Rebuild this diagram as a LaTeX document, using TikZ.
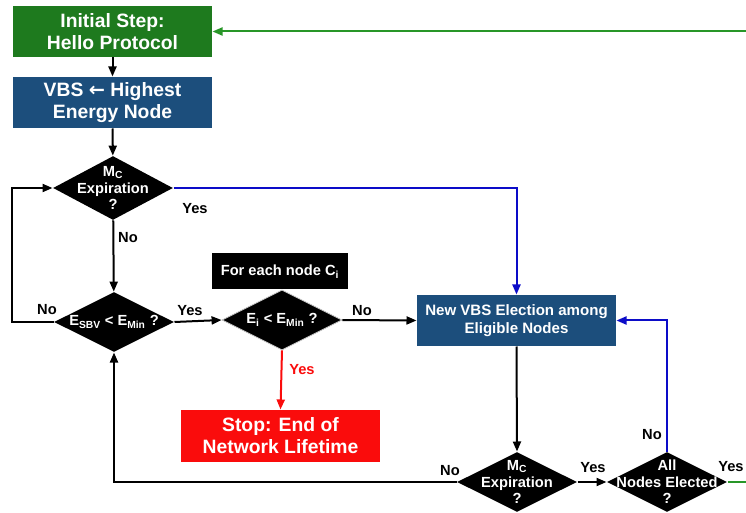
\documentclass[tikz,border=0pt]{standalone}
\usepackage{fontspec}
\setmainfont{Liberation Sans}
\newfontfamily\arrowfont{DejaVu Sans}
\usetikzlibrary{shapes.geometric,arrows.meta}

\definecolor{boxgreen}{RGB}{30,122,30}
\definecolor{boxblue}{RGB}{28,78,124}
\definecolor{stopred}{RGB}{250,12,12}
\definecolor{lineblue}{RGB}{12,12,200}
\definecolor{linegreen}{RGB}{40,150,40}

\tikzset{every picture/.style={line width=0.75pt}}
\tikzset{
  procbox/.style={rectangle, minimum width=149.25pt, minimum height=38.25pt, inner sep=0.75pt, text=white, align=center, font=\bfseries\fontsize{14.5}{16.5}\selectfont},
  decision/.style={diamond, fill=black, minimum width=90pt, minimum height=45pt, inner sep=0pt},
  dtext/.style={text=white, align=center, inner sep=0pt, font=\bfseries\fontsize{11}{12.4}\selectfont},
  answer/.style={inner sep=0.75pt, font=\bfseries\fontsize{11}{12}\selectfont},
  flow/.style={line width=1.5pt, -{Triangle[length=7.5pt,width=6pt]}},
}

\begin{document}
\begin{tikzpicture}[x=0.75pt,y=0.75pt,yscale=-1,xscale=1]
\useasboundingbox (0,0) rectangle (746,513);

%Shape: Rectangle [id:init]
\node [procbox, fill=boxgreen] (init) at (112.5,31.5) {Initial Step:\\Hello Protocol};
%Shape: Rectangle [id:vbs]
\node [procbox, fill=boxblue] (vbs) at (112.5,102.5) {VBS {\arrowfont\bfseries ←} Highest\\Energy Node};
%Shape: Diamond [id:mcone]
\node [decision, minimum height=48pt] (mcone) at (113,188) {};
\node [dtext] at (mcone) {M\textsubscript{C}\\Expiration\\?};
%Shape: Diamond [id:esbv]
\node [decision] (esbv) at (114,322) {};
\node [dtext] at (esbv) {E\textsubscript{SBV} < E\textsubscript{Min} ?};
%Shape: Rectangle [id:foreach]
\node [rectangle, fill=black, minimum width=102pt, minimum height=27pt, text=white, font=\bfseries\fontsize{11}{12}\selectfont] (foreach) at (280,271.5) {For each node C\textsubscript{i}};
%Shape: Diamond [id:ei]
\node [decision, draw=gray!45, line width=0.6pt] (ei) at (282,320) {};
\node [dtext] at (ei) {E\textsubscript{i} < E\textsubscript{Min} ?};
%Shape: Rectangle [id:stop]
\node [procbox, fill=stopred, minimum height=39pt] (stop) at (280.5,436) {Stop: End of\\Network Lifetime};
%Shape: Rectangle [id:newvbs]
\node [procbox, fill=boxblue, font=\bfseries\fontsize{11.3}{14}\selectfont] (newvbs) at (516.5,320.5) {New VBS Election among\\Eligible Nodes};
%Shape: Diamond [id:mctwo]
\node [decision] (mctwo) at (517,482) {};
\node [dtext] at (mctwo) {M\textsubscript{C}\\Expiration\\?};
%Shape: Diamond [id:allnodes]
\node [decision] (allnodes) at (667,482) {};
\node [dtext] at (allnodes) {All\\Nodes Elected\\?};

%Straight Lines
\coordinate (loopleft) at (12,322);
\coordinate (greenin) at (760,31.5);
\coordinate (greenout) at (760,482);
\draw [flow] (init) -- (vbs);
\draw [flow] (vbs) -- (mcone);
\draw [flow] (mcone) -- (esbv);
\draw [flow, lineblue] (mcone.east) -| (newvbs.north);
\draw [flow] (esbv.west) -- (loopleft) |- (mcone.west);
\draw [flow] (esbv.east) -- (ei.west);
\draw [flow] (ei.east) -- (newvbs.west);
\draw [flow, stopred] (ei.south) -- (stop.north);
\draw [flow] (newvbs.south) -- (mctwo.north);
\draw [flow] (mctwo.west) -| (esbv.south);
\draw [flow] (mctwo.east) -- (allnodes.west);
\draw [flow, lineblue] (allnodes.north) |- (newvbs.east);
\draw [line width=1.5pt, linegreen] (allnodes.east) -- (greenout);
\draw [flow, linegreen] (greenin) -- (init.east);

% Text Node
\node [answer] (yesone) at (195,208.5) {Yes};
% Text Node
\node [answer] (noone) at (128,238) {No};
% Text Node
\node [answer] (notwo) at (47,309.5) {No};
% Text Node
\node [answer] (yestwo) at (190,311) {Yes};
% Text Node
\node [answer] (nothree) at (362,311) {No};
% Text Node
\node [answer, text=stopred] (yesthree) at (302,369.5) {Yes};
% Text Node
\node [answer] (nofour) at (450,471) {No};
% Text Node
\node [answer] (yesfour) at (593,467.5) {Yes};
% Text Node
\node [answer] (nofive) at (652,435) {No};
% Text Node
\node [answer] (yesfive) at (731,466.5) {Yes};

\end{tikzpicture}
\end{document}
